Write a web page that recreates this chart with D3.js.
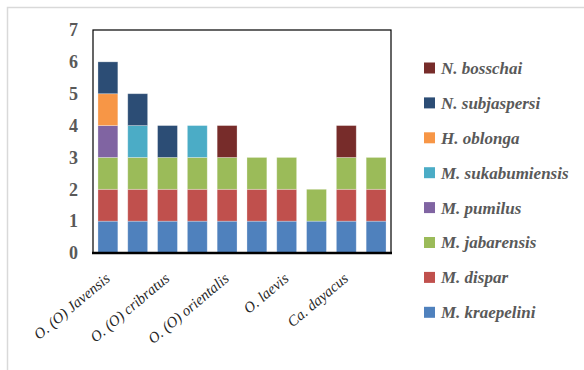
<!DOCTYPE html>
<html><head><meta charset="utf-8">
<script src="https://cdn.jsdelivr.net/npm/d3@7"></script>
<style>body{margin:0;background:#fff;}svg{display:block;}</style>
</head><body>
<svg id="c" width="584" height="370"></svg>
<script>
const categories = ["O. (O) Javensis", "", "O. (O) cribratus", "", "O. (O) orientalis", "", "O. laevis", "", "Ca. dayacus", ""];
const seriesNames = ["M. kraepelini", "M. dispar", "M. jabarensis", "M. pumilus", "M. sukabumiensis", "H. oblonga", "N. subjaspersi", "N. bosschai"];
const seriesColors = ["#4f81bd", "#c0504d", "#9bbb59", "#8064a2", "#4bacc6", "#f79646", "#2c4d75", "#772c2a"];
const kraepelini    = [1,1,1,1,1,1,1,1,1,1];
const dispar        = [1,1,1,1,1,1,1,0,1,1];
const jabarensis    = [1,1,1,1,1,1,1,1,1,1];
const pumilus       = [1,0,0,0,0,0,0,0,0,0];
const sukabumiensis = [0,1,0,1,0,0,0,0,0,0];
const oblonga       = [1,0,0,0,0,0,0,0,0,0];
const subjaspersi   = [1,1,1,0,0,0,0,0,0,0];
const bosschai      = [0,0,0,0,1,0,0,0,1,0];
const yTicks = [0,1,2,3,4,5,6,7];

const seriesValues = [kraepelini, dispar, jabarensis, pumilus, sukabumiensis, oblonga, subjaspersi, bosschai];
const rows = categories.map((c, i) => {
  const r = {idx: i};
  seriesNames.forEach((s, j) => r[s] = seriesValues[j][i]);
  return r;
});
const stacked = d3.stack().keys(seriesNames)(rows);

const svg = d3.select("#c");
const serif = "Liberation Serif";

svg.append("rect").attr("x", 7.5).attr("y", 7.5).attr("width", 600).attr("height", 400)
  .attr("fill", "none").attr("stroke", "#d9d9d9").attr("stroke-width", 1.5);

const L = 93, R = 391, T = 30, B = 253;
const x = d3.scaleBand().domain(d3.range(categories.length)).range([L, R]).paddingInner(1/3).paddingOuter(1/6);
const y = d3.scaleLinear().domain([0, 7]).range([B, T]);

stacked.forEach((layer, j) => {
  svg.append("g").selectAll("rect").data(layer.filter(d => d[1] > d[0])).join("rect")
    .attr("x", d => x(d.data.idx))
    .attr("width", x.bandwidth())
    .attr("y", d => y(d[1]))
    .attr("height", d => y(d[0]) - y(d[1]))
    .attr("fill", seriesColors[j])
    .attr("stroke", "rgba(255,255,255,0.35)").attr("stroke-width", 0.8);
});

// plot border
svg.append("rect").attr("x", L).attr("y", T).attr("width", R - L).attr("height", B - T)
  .attr("fill", "none").attr("stroke", "#000").attr("stroke-width", 1.2);
svg.append("line").attr("x1", L - 1).attr("x2", R + 1).attr("y1", B).attr("y2", B)
  .attr("stroke", "#000").attr("stroke-width", 2.5);

// y axis
const yAxis = svg.append("g").attr("transform", `translate(${L},0)`)
  .call(d3.axisLeft(y).tickValues(yTicks).tickSize(0).tickPadding(15).tickFormat(d3.format("d")));
yAxis.attr("font-family", serif);
yAxis.select(".domain").remove();
yAxis.selectAll("text").attr("font-family", serif).attr("font-size", 18).attr("font-weight", "bold").attr("fill", "#595959");

// x axis
const xAxis = svg.append("g").attr("transform", `translate(0,${B})`)
  .call(d3.axisBottom(x).tickSize(0).tickFormat(i => categories[i]));
xAxis.attr("font-family", serif);
xAxis.select(".domain").remove();
xAxis.selectAll("text")
  .attr("font-family", serif).attr("font-size", 15).attr("font-style", "italic").attr("fill", "#262626")
  .attr("text-anchor", "end").attr("y", 0).attr("dy", 0)
  .attr("transform", "translate(3,27) rotate(-40)");

// legend
const legendOrder = seriesNames.map((s, j) => j).reverse();
const lg = svg.append("g");
legendOrder.forEach((j, k) => {
  const cy = 68 + k * 34.9;
  lg.append("rect").attr("x", 424).attr("y", cy - 5.5).attr("width", 11).attr("height", 11).attr("fill", seriesColors[j]);
  lg.append("text").attr("x", 441).attr("y", cy).attr("dy", "0.35em")
    .attr("font-family", serif).attr("font-size", 17).attr("font-style", "italic").attr("font-weight", "bold")
    .attr("fill", "#595959").text(seriesNames[j]);
});
</script>
</body></html>
